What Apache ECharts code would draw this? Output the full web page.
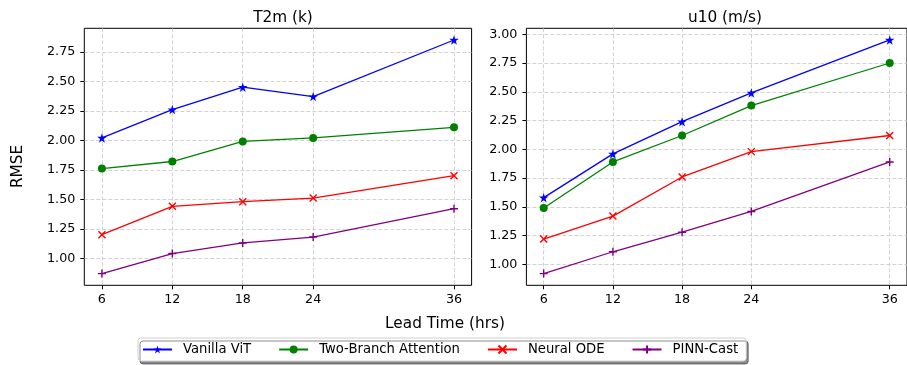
<!DOCTYPE html>
<html><head><meta charset="utf-8">
<script src="https://cdn.jsdelivr.net/npm/echarts@6/dist/echarts.min.js"></script>
<style>html,body{margin:0;padding:0;background:#fff}#c{width:907px;height:365px}</style>
</head><body><div id="c"></div>
<script>
const leadTimes = [6, 12, 18, 24, 36];
const seriesNames = ['Vanilla ViT', 'Two-Branch Attention', 'Neural ODE', 'PINN-Cast'];
const t2mVanilla = [2.02, 2.26, 2.45, 2.37, 2.85];
const t2mTwoBranch = [1.76, 1.82, 1.99, 2.02, 2.11];
const t2mNeuralODE = [1.20, 1.44, 1.48, 1.51, 1.70];
const t2mPINN = [0.87, 1.04, 1.13, 1.18, 1.42];
const u10Vanilla = [1.58, 1.96, 2.24, 2.49, 2.95];
const u10TwoBranch = [1.49, 1.89, 2.12, 2.38, 2.75];
const u10NeuralODE = [1.22, 1.42, 1.76, 1.98, 2.12];
const u10PINN = [0.92, 1.11, 1.28, 1.46, 1.89];
const t2mTicks = [1.00, 1.25, 1.50, 1.75, 2.00, 2.25, 2.50, 2.75];
const u10Ticks = [1.00, 1.25, 1.50, 1.75, 2.00, 2.25, 2.50, 2.75, 3.00];
const panelTitles = ['T2m (k)', 'u10 (m/s)'];

const FONT = 'DejaVu Sans';
const colors = ['#0000ff', '#008000', '#ff0000', '#800080'];
const STAR = 'path://M50,0 L61.2,34.5 L97.6,34.5 L68.2,55.9 L79.4,90.5 L50,69.1 L20.6,90.5 L31.8,55.9 L2.4,34.5 L38.8,34.5 Z';
const XMARK = 'path://M0,0L10,10M0,10L10,0';
const PLUS = 'path://M5,0L5,10M0,5L10,5';
const symbols = [STAR, 'circle', XMARK, PLUS];
const symSizes = [9.5, 8, 7, 8];

function xAxis(gi) {
  return {
    type: 'value', gridIndex: gi, min: 4.5, max: 37.5,
    axisLine: {show: false},
    axisTick: {show: true, length: 4, customValues: leadTimes, lineStyle: {color: '#000', width: 1}},
    axisLabel: {customValues: leadTimes, margin: 8, color: '#000', fontFamily: FONT, fontSize: 12.7},
    splitLine: {show: true, lineStyle: {color: '#c8c8c8', type: [4, 2], width: 0.8}}
  };
}
function yAxis(gi, min, max, ticks) {
  return {
    type: 'value', gridIndex: gi, min: min, max: max,
    axisLine: {show: false},
    axisTick: {show: true, length: 4, customValues: ticks, lineStyle: {color: '#000', width: 1}},
    axisLabel: {customValues: ticks, margin: 9, color: '#000', fontFamily: FONT, fontSize: 12.7,
      formatter: v => v.toFixed(2)},
    splitLine: {show: true, lineStyle: {color: '#c8c8c8', type: [4, 2], width: 0.8}}
  };
}
function mk(gi, name, idx, vals) {
  return {
    type: 'line', name: name, xAxisIndex: gi, yAxisIndex: gi,
    data: leadTimes.map((x, i) => [x, vals[i]]),
    symbol: symbols[idx], symbolSize: symSizes[idx], showSymbol: true,
    lineStyle: {color: colors[idx], width: 1.3},
    itemStyle: {color: colors[idx], borderColor: colors[idx], borderWidth: (idx >= 2 ? 1.4 : 0)},
    emphasis: {disabled: true}, animation: false, z: 3
  };
}
const t2m = [t2mVanilla, t2mTwoBranch, t2mNeuralODE, t2mPINN];
const u10 = [u10Vanilla, u10TwoBranch, u10NeuralODE, u10PINN];
const series = [];
t2m.forEach((v, i) => series.push(mk(0, seriesNames[i], i, v)));
u10.forEach((v, i) => series.push(mk(1, seriesNames[i], i, v)));

const chart = echarts.init(document.getElementById('c'), null, {renderer: 'canvas'});
chart.setOption({
  animation: false,
  backgroundColor: '#fff',
  textStyle: {fontFamily: FONT},
  title: [
    {text: panelTitles[0], left: 278, top: 6, textAlign: 'center',
      textStyle: {fontFamily: FONT, fontSize: 15.3, fontWeight: 'normal', color: '#000'}},
    {text: panelTitles[1], left: 720, top: 6, textAlign: 'center',
      textStyle: {fontFamily: FONT, fontSize: 15.3, fontWeight: 'normal', color: '#000'}},
    {text: 'Lead Time (hrs)', left: 440, top: 312, textAlign: 'center',
      textStyle: {fontFamily: FONT, fontSize: 15.3, fontWeight: 'normal', color: '#000'}}
  ],
  graphic: [{
    type: 'text', x: 18.5, y: 166.5, rotation: Math.PI / 2,
    style: {text: 'RMSE', fill: '#000', font: '15.3px "DejaVu Sans"', align: 'center', verticalAlign: 'middle'}
  }],
  legend: {
    data: seriesNames, left: 138, top: 338, orient: 'horizontal',
    itemWidth: 29, itemHeight: 10, itemGap: 27,
    padding: [5, 8, 5, 4],
    borderColor: '#d0d0d0', borderWidth: 1, borderRadius: 3,
    backgroundColor: '#fff',
    shadowColor: 'rgba(0,0,0,0.45)', shadowBlur: 0, shadowOffsetX: 2, shadowOffsetY: 3,
    textStyle: {fontFamily: FONT, fontSize: 13.2, color: '#000', padding: [0, 0, 0, 6]},
    selectedMode: false
  },
  grid: [
    {left: 84.3, top: 28.3, width: 387.3, height: 257, show: true, borderColor: '#000', borderWidth: 1, backgroundColor: 'transparent'},
    {left: 526.4, top: 28.3, width: 387.2, height: 257, show: true, borderColor: '#000', borderWidth: 1, backgroundColor: 'transparent'}
  ],
  xAxis: [xAxis(0), xAxis(1)],
  yAxis: [yAxis(0, 0.771, 2.949, t2mTicks), yAxis(1, 0.8185, 3.0515, u10Ticks)],
  series: series
});
</script></body></html>
